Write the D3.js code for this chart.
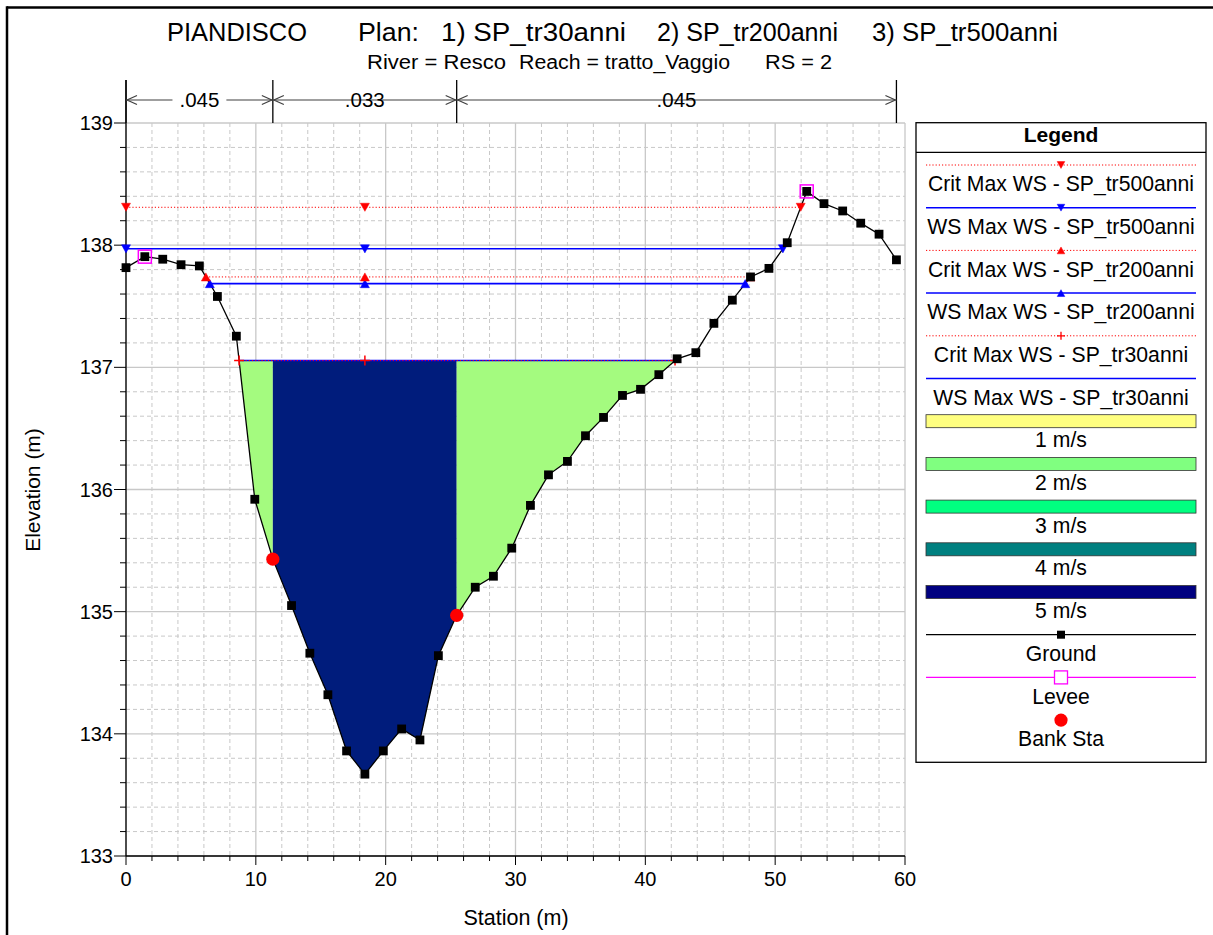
<!DOCTYPE html>
<html>
<head>
<meta charset="utf-8">
<script src="https://cdn.jsdelivr.net/npm/d3@7"></script>
<style>
  html, body { margin: 0; padding: 0; background: #fff; }
  svg { display: block; font-family: "Liberation Sans", Arial, sans-serif; }
</style>
</head>
<body>
<svg id="chart" width="1213" height="935"></svg>
<script>
// ---------------- DATA ----------------
const groundStation = [0, 1.45, 2.83, 4.24, 5.65, 7.04, 8.5, 9.92, 11.31, 12.75, 14.16, 15.55, 16.99, 18.4,
  19.82, 21.23, 22.64, 24.06, 25.47, 26.9, 28.3, 29.71, 31.15, 32.54, 34.0, 35.39, 36.78, 38.24, 39.63,
  41.04, 42.45, 43.89, 45.28, 46.7, 48.1, 49.52, 50.93, 52.43, 53.76, 55.2, 56.59, 58.0, 59.34];
const groundElev = [137.816, 137.906, 137.885, 137.84, 137.83, 137.58, 137.255, 135.92, 135.43, 135.05,
  134.66, 134.32, 133.86, 133.67, 133.86, 134.04, 133.95, 134.64, 134.97, 135.20, 135.29, 135.52, 135.87,
  136.12, 136.23, 136.44, 136.59, 136.77, 136.82, 136.94, 137.07, 137.12, 137.36, 137.55, 137.74, 137.81,
  138.02, 138.44, 138.34, 138.28, 138.18, 138.09, 137.88];
const leveeStation = [1.45, 52.43];
const leveeElev = [137.906, 138.44];
const bankStation = [11.31, 25.47];
const roughnessN = [".045", ".033", ".045"];
const roughnessBreaks = [0, 11.31, 25.47, 59.34];

const wsNames = ["Crit Max WS - SP_tr500anni", "WS Max WS - SP_tr500anni",
  "Crit Max WS - SP_tr200anni", "WS Max WS - SP_tr200anni",
  "Crit Max WS - SP_tr30anni", "WS Max WS - SP_tr30anni"];
const wsElev = [138.31, 137.97, 137.74, 137.685, 137.055, 137.055];
const flowWS = 137.055; // water surface of the plotted velocity distribution (tr30)

const velocityLabels = ["1 m/s", "2 m/s", "3 m/s", "4 m/s", "5 m/s"];
const xTicks = [0, 10, 20, 30, 40, 50, 60];
const yTicks = [133, 134, 135, 136, 137, 138, 139];

// ---------------- STYLES ----------------
const wsStyle = [
  {color: "#ff0000", dash: "1.2,2", width: 1, marker: "down"},
  {color: "#0000ff", dash: null, width: 1.5, marker: "down"},
  {color: "#ff0000", dash: "1.2,2", width: 1, marker: "up"},
  {color: "#0000ff", dash: null, width: 1.8, marker: "up"},
  {color: "#ff0000", dash: "1.2,2", width: 1, marker: "plus"},
  {color: "#0000ff", dash: null, width: 1.5, marker: null}
];
const velocityColors = ["#ffff80", "#80ff80", "#00ff80", "#008080", "#000080"];
const fillOverbank = "#a4fb7f";
const fillChannel = "#001c7c";

// ---------------- LAYOUT ----------------
const svg = d3.select("#chart");
const W = 1213, H = 935;
const plot = {left: 126, right: 905, top: 123, bottom: 856};
const x = d3.scaleLinear().domain([0, 60]).range([plot.left, plot.right]);
const y = d3.scaleLinear().domain([133, 139]).range([plot.bottom, plot.top]);

svg.append("rect").attr("width", W).attr("height", H).attr("fill", "#fff");
// outer frame (top + left)
svg.append("line").attr("x1", 7).attr("x2", W).attr("y1", 7.5).attr("y2", 7.5)
  .attr("stroke", "#000").attr("stroke-width", 2.5);
svg.append("line").attr("x1", 7).attr("x2", 7).attr("y1", 6.3).attr("y2", H)
  .attr("stroke", "#000").attr("stroke-width", 2.5);

// ---------------- TITLES ----------------
const titleParts = [["PIANDISCO", 167, 140], ["Plan:", 358, 61], ["1) SP_tr30anni", 441, 185], ["2) SP_tr200anni", 657, 181], ["3) SP_tr500anni", 872, 186]];
svg.append("g").selectAll("text").data(titleParts).join("text")
  .attr("x", d => d[1]).attr("y", 41)
  .attr("font-size", 25).attr("textLength", d => d[2]).attr("lengthAdjust", "spacingAndGlyphs")
  .attr("fill", "#000").text(d => d[0]);
const subParts = [["River = Resco", 367, 139], ["Reach = tratto_Vaggio", 519, 211], ["RS = 2", 765, 67]];
svg.append("g").selectAll("text").data(subParts).join("text")
  .attr("x", d => d[1]).attr("y", 69)
  .attr("font-size", 20).attr("textLength", d => d[2]).attr("lengthAdjust", "spacingAndGlyphs")
  .attr("fill", "#000").text(d => d[0]);

// ---------------- GRID ----------------
const grid = svg.append("g");
const minorX = d3.range(0, 60.001, 2).filter(v => v % 10 !== 0);
const minorY = d3.range(133, 139.001, 0.2).map(v => +v.toFixed(1)).filter(v => Math.abs(v - Math.round(v)) > 1e-6);
grid.selectAll(".mx").data(minorX).join("line")
  .attr("x1", d => x(d)).attr("x2", d => x(d)).attr("y1", plot.top).attr("y2", plot.bottom)
  .attr("stroke", "#c8c8c8").attr("stroke-dasharray", "4,3");
grid.selectAll(".my").data(minorY).join("line")
  .attr("x1", plot.left).attr("x2", plot.right).attr("y1", d => y(d)).attr("y2", d => y(d))
  .attr("stroke", "#c8c8c8").attr("stroke-dasharray", "4,3");
grid.selectAll(".Mx").data(xTicks).join("line")
  .attr("x1", d => x(d)).attr("x2", d => x(d)).attr("y1", plot.top).attr("y2", plot.bottom)
  .attr("stroke", "#c8c8c8").attr("stroke-width", 1.3);
grid.selectAll(".My").data(yTicks).join("line")
  .attr("x1", plot.left).attr("x2", plot.right).attr("y1", d => y(d)).attr("y2", d => y(d))
  .attr("stroke", "#c8c8c8").attr("stroke-width", 1.3);

// ---------------- HELPERS ----------------
function groundAt(s) {
  for (let i = 0; i < groundStation.length - 1; i++) {
    const a = groundStation[i], b = groundStation[i + 1];
    if (s >= a && s <= b) {
      const t = (s - a) / (b - a);
      return groundElev[i] + t * (groundElev[i + 1] - groundElev[i]);
    }
  }
  return s < groundStation[0] ? groundElev[0] : groundElev[groundElev.length - 1];
}
const thalIdx = d3.minIndex(groundElev);
const thalStation = groundStation[thalIdx];
function wsExtent(ws) {
  let left = groundStation[0], right = groundStation[groundStation.length - 1];
  for (let i = thalIdx; i > 0; i--) {
    if (groundElev[i - 1] >= ws) {
      const a = groundStation[i - 1], b = groundStation[i];
      left = a + (groundElev[i - 1] - ws) / (groundElev[i - 1] - groundElev[i]) * (b - a);
      break;
    }
  }
  for (let i = thalIdx; i < groundStation.length - 1; i++) {
    if (groundElev[i + 1] >= ws) {
      const a = groundStation[i], b = groundStation[i + 1];
      right = a + (ws - groundElev[i]) / (groundElev[i + 1] - groundElev[i]) * (b - a);
      break;
    }
  }
  return [left, right];
}

// ---------------- VELOCITY FILL ----------------
const [wl, wr] = wsExtent(flowWS);
const segs = [[wl, bankStation[0], fillOverbank], [bankStation[0], bankStation[1], fillChannel], [bankStation[1], wr, fillOverbank]];
segs.forEach(([a, b, c]) => {
  const pts = [[a, flowWS], [b, flowWS], [b, groundAt(b)]];
  for (let i = groundStation.length - 1; i >= 0; i--) {
    if (groundStation[i] > a && groundStation[i] < b) pts.push([groundStation[i], groundElev[i]]);
  }
  pts.push([a, groundAt(a)]);
  svg.append("path").attr("d", d3.line().x(d => x(d[0])).y(d => y(d[1]))(pts) + "Z")
    .attr("fill", c).attr("stroke", "none");
});

// ---------------- AXES ----------------
const axes = svg.append("g").attr("stroke", "#000");
axes.append("line").attr("x1", plot.left).attr("x2", plot.left).attr("y1", 80).attr("y2", plot.bottom).attr("stroke-width", 1.3);
axes.append("line").attr("x1", plot.left).attr("x2", plot.right).attr("y1", plot.bottom).attr("y2", plot.bottom).attr("stroke-width", 1.3);
axes.selectAll(".yt").data(yTicks).join("line")
  .attr("x1", plot.left - 12).attr("x2", plot.left).attr("y1", d => y(d)).attr("y2", d => y(d));
axes.selectAll(".ytm").data(minorY).join("line")
  .attr("x1", plot.left - 6).attr("x2", plot.left).attr("y1", d => y(d)).attr("y2", d => y(d));
axes.selectAll(".xt").data(xTicks).join("line")
  .attr("x1", d => x(d)).attr("x2", d => x(d)).attr("y1", plot.bottom).attr("y2", plot.bottom + 9);
axes.selectAll(".xtm").data(minorX).join("line")
  .attr("x1", d => x(d)).attr("x2", d => x(d)).attr("y1", plot.bottom).attr("y2", plot.bottom + 5);
svg.append("g").selectAll("text").data(yTicks).join("text")
  .attr("x", plot.left - 13).attr("y", d => y(d)).attr("dy", "0.35em")
  .attr("text-anchor", "end").attr("font-size", 20).text(d => d);
svg.append("g").selectAll("text").data(xTicks).join("text")
  .attr("x", d => x(d)).attr("y", 886)
  .attr("text-anchor", "middle").attr("font-size", 20).text(d => d);
svg.append("text").attr("x", 516).attr("y", 925).attr("text-anchor", "middle").attr("font-size", 21.5).text("Station (m)");
svg.append("text").attr("transform", "translate(40,490) rotate(-90)").attr("text-anchor", "middle").attr("font-size", 21).text("Elevation (m)");

// ---------------- ROUGHNESS ----------------
const rg = svg.append("g");
const ry = 100;
roughnessBreaks.forEach(s => {
  rg.append("line").attr("x1", x(s)).attr("x2", x(s)).attr("y1", 80).attr("y2", plot.top).attr("stroke", "#000").attr("stroke-width", 1.3);
});
roughnessN.forEach((n, i) => {
  const a = x(roughnessBreaks[i]), b = x(roughnessBreaks[i + 1]);
  rg.append("line").attr("x1", a).attr("x2", b).attr("y1", ry).attr("y2", ry).attr("stroke", "#404040").attr("stroke-width", 1.2);
  rg.append("path").attr("d", `M${a + 11},${ry - 4.5}L${a + 1},${ry}L${a + 11},${ry + 4.5}M${b - 11},${ry - 4.5}L${b - 1},${ry}L${b - 11},${ry + 4.5}`)
    .attr("fill", "none").attr("stroke", "#404040").attr("stroke-width", 1.2);
  const t = rg.append("text").attr("x", (a + b) / 2).attr("y", ry).attr("dy", "0.35em")
    .attr("text-anchor", "middle").attr("font-size", 20.5).text(n);
  const bb = t.node().getBBox();
  rg.insert("rect", "text").attr("x", bb.x - 7).attr("y", bb.y).attr("width", bb.width + 14).attr("height", bb.height).attr("fill", "#fff");
});

// ---------------- MARKERS ----------------
function markerPath(type, cx, cy, s) {
  if (type === "down") return `M${cx - s},${cy - s * 0.9}L${cx + s},${cy - s * 0.9}L${cx},${cy + s * 0.9}Z`;
  if (type === "up") return `M${cx - s},${cy + s * 0.9}L${cx + s},${cy + s * 0.9}L${cx},${cy - s * 0.9}Z`;
  if (type === "plus") return `M${cx - s},${cy}L${cx + s},${cy}M${cx},${cy - s}L${cx},${cy + s}`;
  return "";
}

// ---------------- GROUND ----------------
svg.append("path")
  .attr("d", d3.line().x((d, i) => x(groundStation[i])).y(d => y(d))(groundElev))
  .attr("fill", "none").attr("stroke", "#000").attr("stroke-width", 1.3);

// ---------------- WATER SURFACES ----------------
const wsOrder = [5, 3, 1, 4, 2, 0];
wsOrder.forEach(i => {
  const ws = wsElev[i], st = wsStyle[i];
  const [l, r] = wsExtent(ws);
  svg.append("line").attr("x1", x(l)).attr("x2", x(r)).attr("y1", y(ws)).attr("y2", y(ws))
    .attr("stroke", st.color).attr("stroke-width", st.width).attr("stroke-dasharray", st.dash);
  if (st.marker) {
    [l, thalStation, r].forEach(s => {
      svg.append("path").attr("d", markerPath(st.marker, x(s), y(ws), st.marker === "plus" ? 5 : 4.5))
        .attr("fill", st.marker === "plus" ? "none" : st.color)
        .attr("stroke", st.color).attr("stroke-width", st.marker === "plus" ? 1.5 : 0.5);
    });
  }
});

// ground squares
svg.append("g").selectAll("rect").data(groundElev).join("rect")
  .attr("x", (d, i) => x(groundStation[i]) - 4.4).attr("y", d => y(d) - 4.4)
  .attr("width", 8.8).attr("height", 8.8).attr("fill", "#000");
// levees
svg.append("g").selectAll("rect").data(leveeElev).join("rect")
  .attr("x", (d, i) => x(leveeStation[i]) - 6.5).attr("y", d => y(d) - 6.5)
  .attr("width", 13).attr("height", 13).attr("fill", "none").attr("stroke", "#ff00ff").attr("stroke-width", 1.5);
// bank stations
svg.append("g").selectAll("circle").data(bankStation).join("circle")
  .attr("cx", d => x(d)).attr("cy", d => y(groundAt(d))).attr("r", 6.6).attr("fill", "#ff0000");

// ---------------- LEGEND ----------------
const lg = svg.append("g");
const L = {left: 916, right: 1206, top: 122.7, bottom: 762.3, x1: 926, x2: 1196};
const cxL = (L.x1 + L.x2) / 2;
lg.append("rect").attr("x", L.left).attr("y", L.top).attr("width", L.right - L.left).attr("height", L.bottom - L.top)
  .attr("fill", "#fff").attr("stroke", "#000").attr("stroke-width", 1.3);
lg.append("line").attr("x1", L.left).attr("x2", L.right).attr("y1", 152.3).attr("y2", 152.3).attr("stroke", "#000").attr("stroke-width", 1.3);
lg.append("text").attr("x", (L.left + L.right) / 2).attr("y", 135).attr("dy", "0.35em").attr("text-anchor", "middle")
  .attr("font-size", 21).attr("font-weight", "bold").text("Legend");
const step = 42.7, y0 = 165, labOff = 18.7;
const legendFont = 21.2;
function legLabel(yy, txt) {
  lg.append("text").attr("x", cxL).attr("y", yy + labOff).attr("dy", "0.35em").attr("text-anchor", "middle")
    .attr("font-size", legendFont).text(txt);
}
wsNames.forEach((nm, i) => {
  const yy = y0 + i * step, st = wsStyle[i];
  lg.append("line").attr("x1", L.x1).attr("x2", L.x2).attr("y1", yy).attr("y2", yy)
    .attr("stroke", st.color).attr("stroke-width", st.dash ? 1 : 1.5).attr("stroke-dasharray", st.dash);
  if (st.marker) lg.append("path").attr("d", markerPath(st.marker, cxL, yy, st.marker === "plus" ? 4 : 3.8))
    .attr("fill", st.marker === "plus" ? "none" : st.color).attr("stroke", st.color).attr("stroke-width", st.marker === "plus" ? 1.3 : 0.5);
  legLabel(yy, nm);
});
velocityLabels.forEach((lab, i) => {
  const yy = y0 + (6 + i) * step;
  lg.append("rect").attr("x", L.x1).attr("y", yy - 6.5).attr("width", L.x2 - L.x1).attr("height", 13)
    .attr("fill", velocityColors[i]).attr("stroke", "#333").attr("stroke-width", 0.8);
  legLabel(yy, lab);
});
{
  let yy = y0 + 11 * step;
  lg.append("line").attr("x1", L.x1).attr("x2", L.x2).attr("y1", yy).attr("y2", yy).attr("stroke", "#000").attr("stroke-width", 1.3);
  lg.append("rect").attr("x", cxL - 4).attr("y", yy - 4).attr("width", 8).attr("height", 8).attr("fill", "#000");
  legLabel(yy, "Ground");
  yy = y0 + 12 * step;
  lg.append("line").attr("x1", L.x1).attr("x2", L.x2).attr("y1", yy).attr("y2", yy).attr("stroke", "#ff00ff").attr("stroke-width", 1.3);
  lg.append("rect").attr("x", cxL - 6.5).attr("y", yy - 6.5).attr("width", 13).attr("height", 13).attr("fill", "#fff").attr("stroke", "#ff00ff").attr("stroke-width", 1.3);
  legLabel(yy, "Levee");
  yy = y0 + 13 * step;
  lg.append("circle").attr("cx", cxL).attr("cy", yy).attr("r", 6.6).attr("fill", "#ff0000");
  legLabel(yy, "Bank Sta");
}
</script>
</body>
</html>
